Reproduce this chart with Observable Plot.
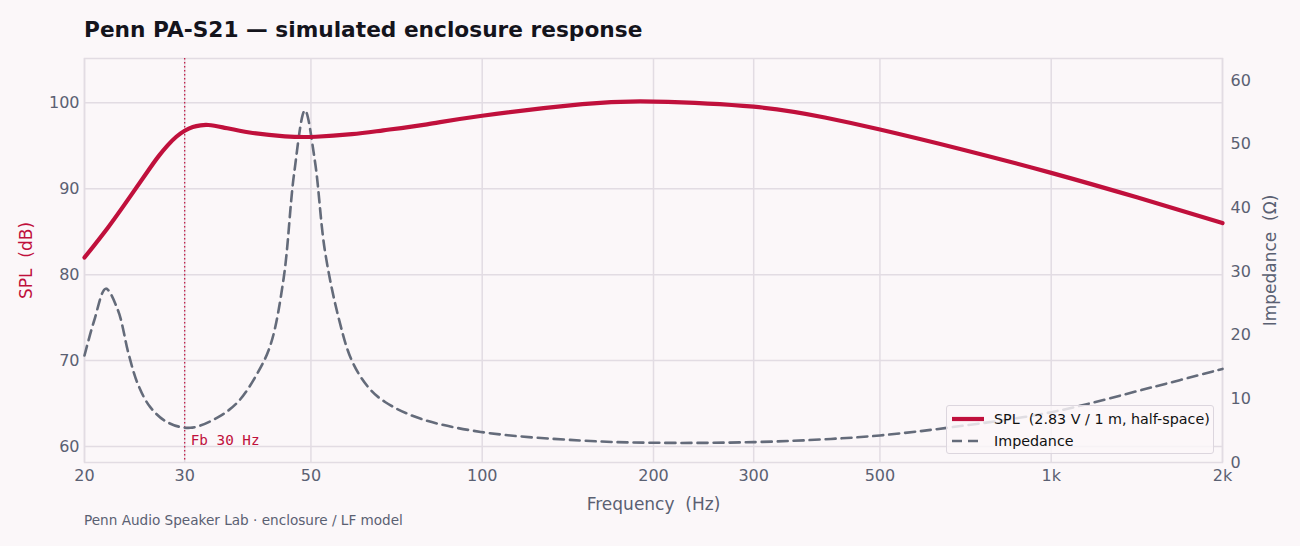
<!DOCTYPE html>
<html>
<head>
<meta charset="utf-8">
<script src="https://cdn.jsdelivr.net/npm/d3@7"></script>
<script src="https://cdn.jsdelivr.net/npm/@observablehq/plot@0.6"></script>
<style>
  html, body { margin: 0; padding: 0; background: #fbf7f9; }
  body { width: 1300px; height: 546px; overflow: hidden; font-family: "DejaVu Sans", sans-serif; }
  #wrap { position: relative; width: 1300px; height: 546px; }
  #title { position: absolute; left: 84px; top: 17px; font-size: 21.7px; font-weight: bold; color: #14141c; white-space: nowrap; }
  #chart { position: absolute; left: 0; top: 48px; }
  #chart svg text { white-space: pre; }
  #caption { position: absolute; left: 84px; top: 512px; font-size: 13.6px; color: #5a6072; white-space: nowrap; }
  #legend { position: absolute; left: 946px; top: 405px; width: 266px; height: 47px; border: 1px solid #dcd6de; border-radius: 3px; background: rgba(251,247,249,0.82); font-size: 14.3px; color: #111; }
  #legend .row { position: absolute; left: 4px; height: 20px; display: flex; align-items: center; white-space: pre; }
  #legend svg { margin-right: 9px; }
</style>
</head>
<body>
<div id="wrap">
  <div id="title"></div>
  <div id="chart"></div>
  <div id="caption"></div>
  <div id="legend"></div>
</div>
<script>
// ---- data ----
const TITLE = "Penn PA-S21 — simulated enclosure response";
const CAPTION = "Penn Audio Speaker Lab · enclosure / LF model";
const X_LABEL = "Frequency  (Hz)";
const SPL_LABEL = "SPL  (dB)";
const IMP_LABEL = "Impedance  (Ω)";
const SPL_NAME = "SPL  (2.83 V / 1 m, half-space)";
const IMP_NAME = "Impedance";

const splFreq = [20, 22, 24, 26, 27, 28, 29, 30, 31, 32, 33, 35, 39, 45, 51, 59, 67, 80, 100, 150, 200, 300, 400, 500, 700, 1000, 1414, 2000];
const splDb   = [82.0, 85.5, 89.0, 92.3, 93.8, 95.05, 96.05, 96.75, 97.18, 97.38, 97.42, 97.15, 96.55, 96.1, 96.05, 96.35, 96.8, 97.5, 98.5, 99.85, 100.15, 99.55, 98.3, 96.9, 94.55, 91.85, 89.0, 86.0];

const impFreq = [20, 20.8, 21.8, 22.9, 23.9, 24.8, 26.1, 28.0, 30.7, 34.3, 37.2, 40.2, 42.5, 44.8, 46.7, 48.8, 50.8, 52.9, 55.9, 59.0, 63.1, 67.5, 77.8, 99.4, 149, 200, 300, 410, 500, 670, 1000, 1517, 2000];
const impOhm  = [16.8, 22.3, 27.3, 23.9, 17.1, 12.4, 8.7, 6.3, 5.45, 7.1, 9.5, 13.9, 18.6, 29.1, 45.3, 55.3, 47.4, 33.3, 22.8, 16.0, 11.8, 9.5, 6.9, 4.8, 3.45, 3.1, 3.2, 3.7, 4.25, 5.55, 7.9, 11.9, 14.7];

const xTicks = [20, 30, 50, 100, 200, 300, 500, 1000, 2000];
const xTickLabels = ["20", "30", "50", "100", "200", "300", "500", "1k", "2k"];
const splTicks = [60, 70, 80, 90, 100];
const impTicks = [0, 10, 20, 30, 40, 50, 60];
const splDomain = [58.14, 105.16];
const impDomain = [0, 63.45];
const FB = 30;
const FB_LABEL = "Fb 30 Hz";

// ---- colours ----
const RED = "#c0103c";
const GRAY = "#646b7a";
const INK = "#5a6072";
const GRID = "#e2dce3";

// map impedance onto the SPL scale (twin axis)
const toL = z => splDomain[0] + (z - impDomain[0]) * (splDomain[1] - splDomain[0]) / (impDomain[1] - impDomain[0]);
const fromL = v => impDomain[0] + (v - splDomain[0]) * (impDomain[1] - impDomain[0]) / (splDomain[1] - splDomain[0]);

const spl = splFreq.map((f, i) => ({f, v: splDb[i]}));
const imp = impFreq.map((f, i) => ({f, v: toL(impOhm[i])}));
const xLabelMap = new Map(xTicks.map((t, i) => [t, xTickLabels[i]]));

const plot = Plot.plot({
  width: 1300,
  height: 474,
  marginTop: 10,
  marginBottom: 60,
  marginLeft: 84,
  marginRight: 78,
  style: { background: "transparent", fontFamily: "DejaVu Sans, sans-serif", fontSize: "16px", color: INK, overflow: "visible" },
  x: { type: "log", domain: [20, 2000] },
  y: { domain: splDomain },
  marks: [
    Plot.gridX(xTicks, { stroke: GRID, strokeOpacity: 1, strokeWidth: 1.5 }),
    Plot.gridY(splTicks, { stroke: GRID, strokeOpacity: 1, strokeWidth: 1.5 }),
    Plot.frame({ stroke: GRID, strokeWidth: 1.5 }),
    Plot.axisX(xTicks, { tickSize: 0, tickPadding: 7, tickFormat: d => xLabelMap.get(d), label: X_LABEL, labelAnchor: "center", labelArrow: "none", labelOffset: 47, fill: INK, fontSize: 16 }),
    Plot.axisY(splTicks, { anchor: "left", tickSize: 0, tickPadding: 5, label: SPL_LABEL, labelAnchor: "center", labelArrow: "none", labelOffset: 65, fill: INK, fontSize: 16 }),
    Plot.axisY(impTicks.map(toL), { anchor: "right", tickSize: 0, tickPadding: 8, tickFormat: d => String(Math.round(fromL(d))), label: IMP_LABEL, labelAnchor: "center", labelArrow: "none", labelOffset: 53, fill: INK, fontSize: 16 }),
    Plot.ruleX([FB], { stroke: RED, strokeWidth: 1.2, strokeDasharray: "1.5,2.5" }),
    Plot.line(imp, { x: "f", y: "v", stroke: GRAY, strokeWidth: 2.6, strokeDasharray: "10,6", curve: "catmull-rom" }),
    Plot.line(spl, { x: "f", y: "v", stroke: RED, strokeWidth: 4.2, curve: "natural" }),
    Plot.text([FB], { x: d => d, frameAnchor: "bottom", lineAnchor: "bottom", textAnchor: "start", dx: 6, dy: -18, text: () => FB_LABEL, fill: RED, fontFamily: "DejaVu Sans Mono, monospace", fontSize: 14.3 })
  ]
});
document.getElementById("chart").appendChild(plot);

// style the axis labels
const svg = plot.tagName.toLowerCase() === "svg" ? plot : plot.querySelector("svg");
svg.querySelectorAll("text").forEach(t => {
  const s = t.textContent;
  if (s === SPL_LABEL || s === IMP_LABEL || s === X_LABEL) {
    t.setAttribute("font-size", "17px");
    t.style.fontSize = "17px";
    t.style.whiteSpace = "pre";
  }
  if (s === SPL_LABEL) t.setAttribute("fill", RED);
});

document.getElementById("title").textContent = TITLE;
document.getElementById("caption").textContent = CAPTION;

const lg = document.getElementById("legend");
function row(top, name, stroke, width, dash) {
  const r = document.createElement("div");
  r.className = "row";
  r.style.top = top + "px";
  r.innerHTML = `<svg width="34" height="10"><line x1="1" x2="33" y1="5" y2="5" stroke="${stroke}" stroke-width="${width}" ${dash ? `stroke-dasharray="${dash}"` : ""}/></svg><span></span>`;
  r.querySelector("span").textContent = name;
  lg.appendChild(r);
}
row(3, SPL_NAME, RED, 4.2, null);
row(25, IMP_NAME, GRAY, 2.6, "10,6");
</script>
</body>
</html>
